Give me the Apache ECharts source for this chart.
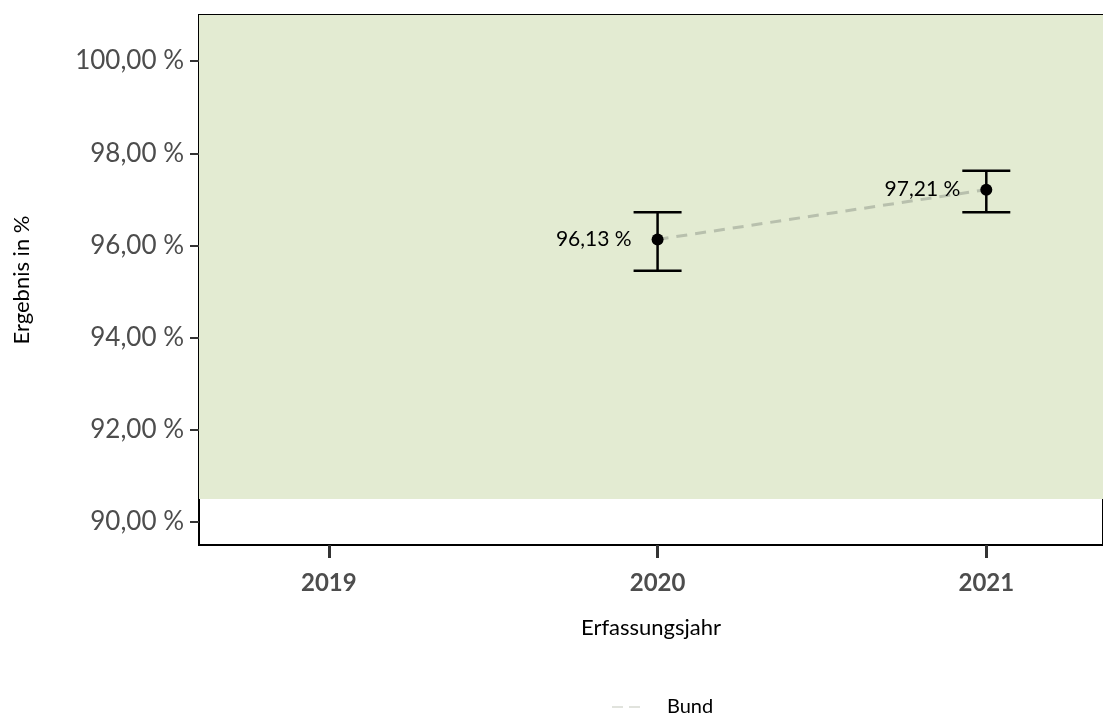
<!DOCTYPE html>
<html><head><meta charset="utf-8">
<script src="https://cdn.jsdelivr.net/npm/echarts@6/dist/echarts.min.js"></script>
<style>html,body{margin:0;padding:0;background:#fff}#c{width:1103px;height:715px}</style>
</head><body><div id="c"></div>
<script>
const years = [2020, 2021];
const values = [96.13, 97.21];
const ciLow = [95.45, 96.72];
const ciHigh = [96.72, 97.62];
const xTicks = [2019, 2020, 2021];
const yTicks = [90, 92, 94, 96, 98, 100];
const zoneLow = 90.5;

const FONT = 'Lato';
const fmt = v => v.toFixed(2).replace('.', ',') + ' %';

const chart = echarts.init(document.getElementById('c'));
chart.setOption({
  animation: false,
  textStyle: { fontFamily: FONT },
  grid: { left: 199, top: 15, right: -2, bottom: 170, show: true, borderColor: '#000', borderWidth: 2, backgroundColor: 'transparent' },
  xAxis: {
    type: 'value', min: 2018.605, max: 2021.355,
    name: 'Erfassungsjahr', nameLocation: 'middle', nameGap: 72,
    nameTextStyle: { fontSize: 22, color: '#000', fontFamily: FONT },
    axisLine: { show: true, lineStyle: { color: '#000', width: 2 } },
    axisTick: { show: true, customValues: xTicks, length: 13, lineStyle: { color: '#333', width: 3 } },
    axisLabel: { customValues: xTicks, fontSize: 24, fontWeight: 'bold', color: '#4d4d4d', margin: 26, formatter: v => String(v) },
    splitLine: { show: false }
  },
  yAxis: {
    type: 'value', min: 89.5, max: 101,
    name: 'Ergebnis in %', nameLocation: 'middle', nameGap: 166, nameRotate: 90,
    nameTextStyle: { fontSize: 22, color: '#000', fontFamily: FONT },
    axisLine: { show: true, lineStyle: { color: '#000', width: 2 } },
    axisTick: { show: true, customValues: yTicks, length: 9, lineStyle: { color: '#333', width: 2 } },
    axisLabel: { customValues: yTicks, fontSize: 26, color: '#4d4d4d', margin: 15, formatter: v => fmt(v) },
    splitLine: { show: false }
  },
  legend: {
    bottom: -7, left: 607, itemWidth: 28, itemHeight: 3, itemGap: 10,
    icon: 'path://M0,0h11v1h-11z M17,0h11v1h-11z',
    itemStyle: { color: '#c3c8bb' },
    textStyle: { fontSize: 20, color: '#000', fontFamily: FONT, padding: [0, 0, 0, 22] },
    data: ['Bund']
  },
  series: [
    {
      name: 'zone', type: 'line', data: [], silent: true,
      markArea: { silent: true, itemStyle: { color: '#e3ebd2' }, data: [[{ yAxis: zoneLow }, { yAxis: 101 }]] },
      z: 0
    },
    {
      name: 'Bund', type: 'line', symbol: 'none', z: 2,
      data: years.map((y, i) => [y, values[i]]),
      lineStyle: { color: '#b8c0ad', width: 3, type: [11, 8] },
      itemStyle: { color: '#c3c8bb' }
    },
    {
      name: 'ci', type: 'custom', z: 3,
      data: years.map((y, i) => [y, ciLow[i], ciHigh[i]]),
      renderItem: (params, api) => {
        const lo = api.coord([api.value(0), api.value(1)]);
        const hi = api.coord([api.value(0), api.value(2)]);
        const w = 24;
        const st = { stroke: '#000', lineWidth: 2.5 };
        return { type: 'group', children: [
          { type: 'line', shape: { x1: lo[0], y1: lo[1], x2: hi[0], y2: hi[1] }, style: st },
          { type: 'line', shape: { x1: lo[0] - w, y1: lo[1], x2: lo[0] + w, y2: lo[1] }, style: st },
          { type: 'line', shape: { x1: hi[0] - w, y1: hi[1], x2: hi[0] + w, y2: hi[1] }, style: st }
        ]};
      }
    },
    {
      name: 'pts', type: 'scatter', z: 4, symbolSize: 12,
      data: years.map((y, i) => [y, values[i]]),
      itemStyle: { color: '#000', opacity: 1 },
      label: { show: true, position: 'left', distance: 20, fontSize: 21, color: '#000', fontFamily: FONT, formatter: p => fmt(p.value[1]) }
    }
  ]
});
</script></body></html>
